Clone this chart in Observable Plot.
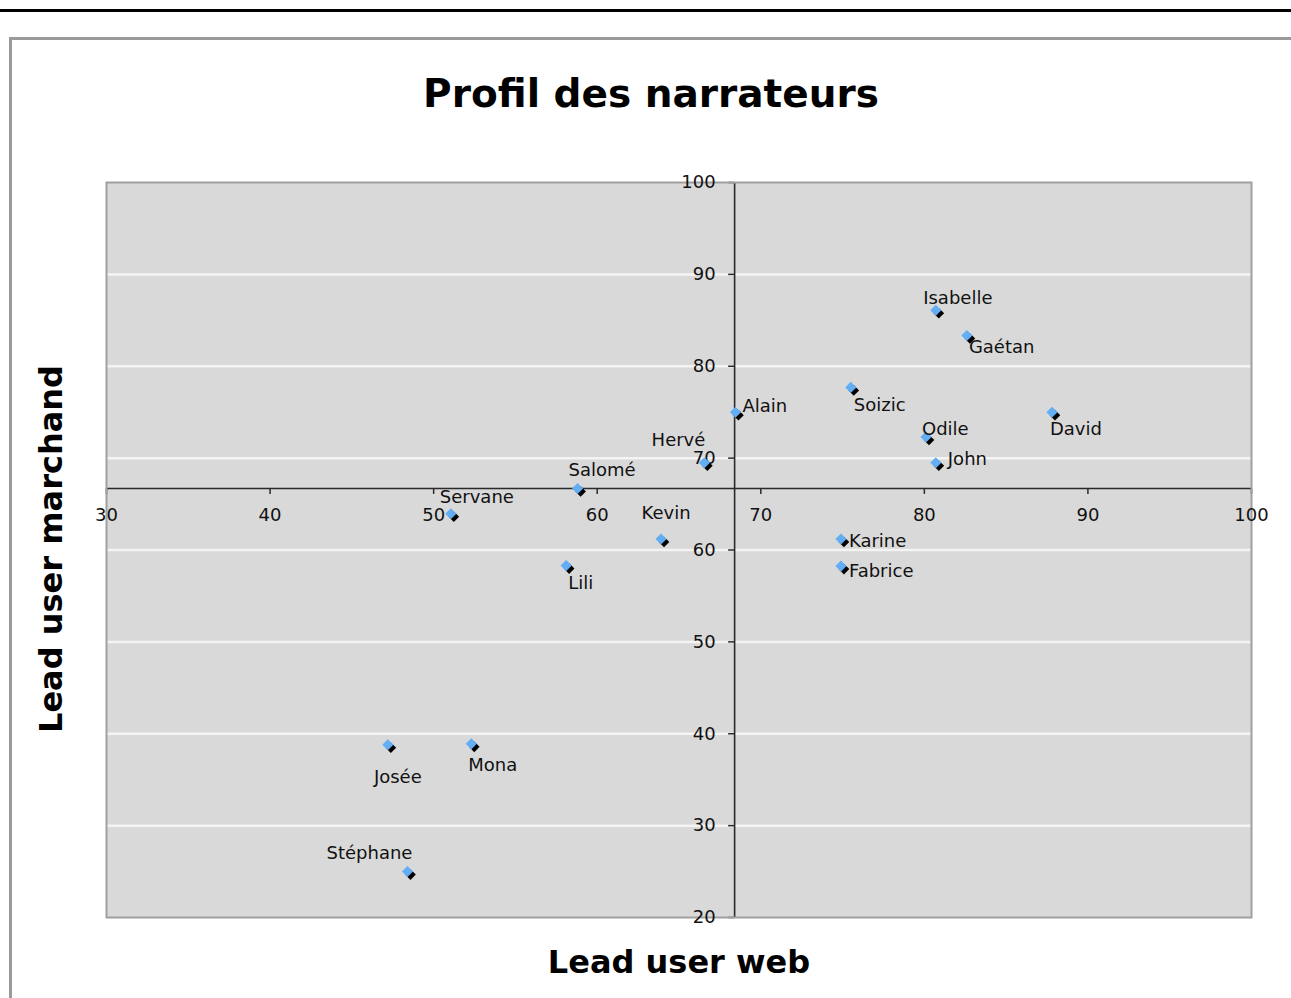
<!DOCTYPE html>
<html>
<head>
<meta charset="utf-8">
<script src="https://cdn.jsdelivr.net/npm/d3@7"></script>
<script src="https://cdn.jsdelivr.net/npm/@observablehq/plot@0.6"></script>
<style>
html, body { margin: 0; padding: 0; background: #fff; width: 1291px; height: 998px; overflow: hidden; font-family: "DejaVu Sans", Verdana, sans-serif; }
#topline { position: absolute; left: 0; top: 9px; width: 1291px; height: 3px; background: #000; }
#frame { position: absolute; left: 9px; top: 37px; width: 1300px; height: 1000px; border-left: 3px solid #9a9a9a; border-top: 3px solid #9a9a9a; box-sizing: border-box; }
#chart { position: absolute; left: 0; top: 0; }
</style>
</head>
<body>
<div id="topline"></div>
<div id="frame"></div>
<div id="chart"></div>
<script>
// ---- data ----
const names    = ["Isabelle","Gaétan","Soizic","Alain","Odile","David","John","Hervé","Salomé","Servane","Kevin","Karine","Lili","Fabrice","Josée","Mona","Stéphane"];
const web      = [80.7, 82.6, 75.5, 68.45, 80.1, 87.8, 80.7, 66.55, 58.8, 51.05, 63.9, 74.9, 58.1, 74.9, 47.2, 52.3, 48.4];
const marchand = [86.1, 83.35, 77.7, 75.0, 72.3, 75.0, 69.5, 69.5, 66.7, 63.95, 61.2, 61.2, 58.3, 58.25, 38.8, 38.9, 25.0];
const xTicks = [30, 40, 50, 60, 70, 80, 90, 100];
const yTicks = [20, 30, 40, 50, 60, 70, 80, 90, 100];
const crossX = 68.4;   // vertical axis crosses at this web value
const crossY = 66.7;   // horizontal axis crosses at this marchand value
const titleText = "Profil des narrateurs";
const xTitle = "Lead user web";
const yTitle = "Lead user marchand";

// ---- label placement (pixels, style only) ----
const labelAnchor = ["middle","start","start","start","start","start","start","end","start","start","middle","start","start","start","middle","start","middle"];
const labelDx = [22, 2, 3, 7, -4, -2, 12, 1, -9, -11, 5, 8, 2, 8, 10, -3, -38];
const labelDy = [-12, 12, 18, -6, -8, 17, -3, -22, -18, -16, -26, 2, 18, 5, 32, 21, -18];

const points = names.map((name, i) => ({name, x: web[i], y: marchand[i]}));

const labelMarks = points.map((p, i) => Plot.text([p], {
  x: "x", y: "y", text: "name",
  textAnchor: labelAnchor[i], lineAnchor: "middle",
  dx: labelDx[i], dy: labelDy[i],
  fill: "#111", fontSize: 18
}));

const chart = Plot.plot({
  width: 1291,
  height: 998,
  marginLeft: 106,
  marginRight: 40,
  marginTop: 182,
  marginBottom: 81,
  style: {fontFamily: "'DejaVu Sans', Verdana, sans-serif", fontSize: "18px", background: "transparent", overflow: "visible"},
  x: {domain: [30, 100], axis: null},
  y: {domain: [20, 100], axis: null},
  marks: [
    Plot.frame({fill: "#d9d9d9"}),
    Plot.ruleY(yTicks.filter(v => v > 20 && v < 100), {y: d => d, stroke: "#f4f4f4", strokeWidth: 2.5}),
    Plot.ruleY([crossY], {y: d => d, stroke: "#2a2a2a", strokeWidth: 1.6}),
    Plot.ruleX([crossX], {x: d => d, stroke: "#2a2a2a", strokeWidth: 1.6}),
    Plot.ruleX(xTicks, {x: d => d, y1: () => crossY, y2: () => crossY, insetTop: 0, insetBottom: -6, stroke: "#2a2a2a", strokeWidth: 1.5}),
    Plot.ruleY(yTicks, {y: d => d, x1: () => crossX, x2: () => crossX, insetLeft: -6, insetRight: 0, stroke: "#2a2a2a", strokeWidth: 1.5}),
    Plot.frame({stroke: "#a0a0a0", strokeWidth: 2}),
    Plot.text(xTicks, {x: d => d, y: () => crossY, text: d => String(d), dy: 27, textAnchor: "middle", lineAnchor: "middle", fill: "#111", fontSize: 18}),
    Plot.text(yTicks, {x: () => crossX, y: d => d, text: d => String(d), dx: -19, textAnchor: "end", lineAnchor: "middle", fill: "#111", fontSize: 18}),
    Plot.dot(points, {x: "x", y: "y", symbol: "diamond2", r: 4.8, fill: "#000", dx: 3, dy: 3}),
    Plot.dot(points, {x: "x", y: "y", symbol: "diamond2", r: 5, fill: "#63adf5"}),
    ...labelMarks,
    Plot.text([titleText], {text: d => d, frameAnchor: "top", dx: -28, dy: -87.5, textAnchor: "middle", lineAnchor: "middle", fontSize: 39, fontWeight: "bold", fill: "#000"}),
    Plot.text([xTitle], {text: d => d, frameAnchor: "bottom", dx: 0, dy: 44.8, textAnchor: "middle", lineAnchor: "middle", fontSize: 32, fontWeight: "bold", fill: "#000"}),
    Plot.text([yTitle], {text: d => d, frameAnchor: "left", dx: -55, dy: -1, rotate: -90, textAnchor: "middle", lineAnchor: "middle", fontSize: 32, fontWeight: "bold", fill: "#000"})
  ]
});
document.getElementById("chart").appendChild(chart);
</script>
</body>
</html>
